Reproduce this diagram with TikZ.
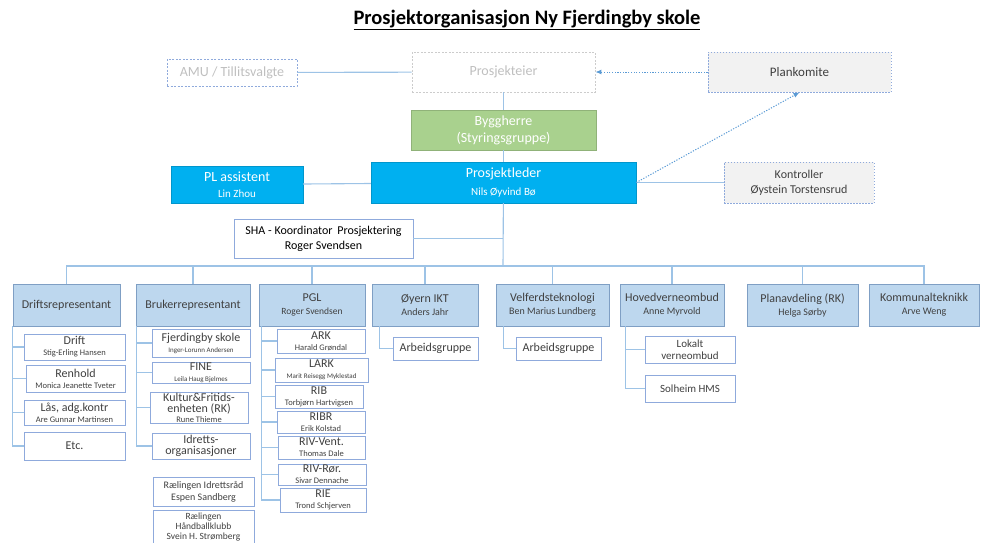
\documentclass[tikz,border=0pt]{standalone}
\usepackage{fontspec}
\setmainfont{Carlito}
\usetikzlibrary{arrows.meta}
\definecolor{lineblue}{HTML}{9DC3E6}
\definecolor{lvlfill}{HTML}{BDD7EE}
\definecolor{lvlborder}{HTML}{7F9FC4}
\definecolor{subborder}{HTML}{8FAADC}
\definecolor{plblue}{HTML}{00B0F0}
\definecolor{byggreen}{HTML}{A9D18E}
\definecolor{txtgray}{HTML}{404040}
\definecolor{palegray}{HTML}{BFBFBF}
\definecolor{boxgray}{HTML}{F2F2F2}
\definecolor{dotblue}{HTML}{5B9BD5}
\newcommand{\nm}[1]{{\fontsize{8.5}{9}\selectfont #1}}
\newcommand{\nmsmall}[1]{{\fontsize{7}{8}\selectfont #1}}

\begin{document}
\begin{tikzpicture}[x=1pt,y=-1pt,
  box/.style 2 args={minimum width=#1, minimum height=#2, inner sep=0pt, align=center},
  conn/.style={draw=lineblue, line width=1.1pt},
  lvl/.style={draw=lvlborder, fill=lvlfill, line width=0.8pt, text=txtgray, font=\fontsize{12}{13}\selectfont},
  sub/.style={draw=subborder, fill=white, line width=0.8pt, text=txtgray, font=\fontsize{12}{11}\selectfont},
  faint/.style={dash pattern=on 2pt off 1.5pt, line width=0.8pt, text=palegray, font=\fontsize{14}{14}\selectfont},
  ctrl/.style={draw=subborder, dash pattern=on 1.5pt off 1.5pt, line width=0.8pt, fill=boxgray, text=txtgray},
  dotarrow/.style={draw=dotblue, dash pattern=on 1.2pt off 1.5pt, line width=1pt, -{Latex[length=6pt,width=5pt]}}]
\useasboundingbox (0,0) rectangle (981,542);

\node (title) at (527,20) {\fontsize{20.5}{20.5}\selectfont\bfseries\underline{Prosjektorganisasjon Ny Fjerdingby skole}};

\node[box={130}{27}, faint, draw=subborder] (amu) at (232,72.5) {AMU / Tillitsvalgte};
\node[box={183}{40}, faint, draw=palegray!80] (eier) at (503.5,72) {Prosjekteier};
\node[box={183}{40}, ctrl, font=\fontsize{13}{13}\selectfont] (plan) at (799.5,72) {Plankomite};
\node[box={185}{40}, draw=byggreen!85!black, fill=byggreen, text=white, font=\fontsize{14}{17}\selectfont] (bygg) at (503.5,130) {Byggherre\\(Styringsgruppe)};
\node[box={265}{41}, draw=plblue!85!black, fill=plblue, text=white, font=\fontsize{14}{18}\selectfont] (pl) at (503.5,182.5) {Prosjektleder\\{\fontsize{11}{11}\selectfont Nils Øyvind Bø}};
\node[box={132}{37}, draw=plblue!85!black, fill=plblue, text=white, font=\fontsize{14}{16}\selectfont] (plass) at (237,184.5) {PL assistent\\{\fontsize{11}{11}\selectfont Lin Zhou}};
\node[box={150}{41}, ctrl, font=\fontsize{12}{15}\selectfont] (kontr) at (799,182.5) {Kontroller\\Øystein Torstensrud};
\node[box={179}{39}, sub, text=black, font=\fontsize{12}{15}\selectfont] (sha) at (323.5,238.5) {SHA - Koordinator\, Prosjektering\\Roger Svendsen};

\coordinate (bus) at (503,266);

\node[box={107}{42}, lvl] (drift) at (66.5,305) {Driftsrepresentant};
\node[box={114}{42}, lvl] (bruker) at (193,305) {Brukerrepresentant};
\node[box={106}{42}, lvl] (pgl) at (312,305) {PGL\\{\fontsize{9.5}{10}\selectfont Roger Svendsen}};
\node[box={106}{42}, lvl] (oyern) at (425,305) {Øyern IKT\\{\fontsize{10}{10}\selectfont Anders Jahr}};
\node[box={113}{42}, lvl] (velferd) at (552.5,305) {Velferdsteknologi\\{\fontsize{10}{10}\selectfont Ben Marius Lundberg}};
\node[box={104}{42}, lvl] (hoved) at (672,305) {Hovedverneombud\\{\fontsize{10}{10}\selectfont Anne Myrvold}};
\node[box={111}{42}, lvl] (planavd) at (802.5,305) {Planavdeling (RK)\\{\fontsize{10}{10}\selectfont Helga Sørby}};
\node[box={110}{42}, lvl] (kommunal) at (924,305) {Kommunalteknikk\\{\fontsize{10}{10}\selectfont Arve Weng}};

\node[box={101}{26}, sub] (d1) at (74.5,347) {Drift\\\nm{Stig-Erling Hansen}};
\node[box={99}{27}, sub] (d2) at (75.5,378.5) {Renhold\\\nm{Monica Jeanette Tveter}};
\node[box={101}{25}, sub] (d3) at (74.5,412.5) {Lås, adg.kontr\\\nm{Are Gunnar Martinsen}};
\node[box={101}{28}, sub] (d4) at (74.5,446) {Etc.};

\node[box={98}{28}, sub] (b1) at (201,343) {Fjerdingby skole\\\nmsmall{Inger-Lorunn Andersen}};
\node[box={98}{21}, sub] (b2) at (201,372.5) {FINE\\\nmsmall{Leila Haug Bjelmes}};
\node[box={98}{31}, sub, font=\fontsize{12}{11}\selectfont] (b3) at (199,407.5) {Kultur\&Fritids-\\enheten (RK)\\[-1pt]\nm{Rune Thieme}};
\node[box={98}{26}, sub] (b4) at (201,446) {Idretts-\\organisasjoner};
\node[box={101}{29}, sub, font=\fontsize{10}{12}\selectfont] (b5) at (203.5,491.5) {Rælingen Idrettsråd\\Espen Sandberg};
\node[box={101}{34}, sub, font=\fontsize{9.5}{10.3}\selectfont] (b6) at (203.5,527) {Rælingen\\Håndballklubb\\Svein H. Strømberg};

\node[box={88}{24}, sub] (p1) at (321,341) {ARK\\\nm{Harald Grøndal}};
\node[box={93}{24}, sub] (p2) at (321.5,370) {LARK\\\nmsmall{Marit Reisegg Myklestad}};
\node[box={88}{23}, sub] (p3) at (319,396.5) {RIB\\\nm{Torbjørn Hartvigsen}};
\node[box={88}{22}, sub] (p4) at (321,422) {RIBR\\\nm{Erik Kolstad}};
\node[box={87}{23}, sub] (p5) at (321.5,447.5) {RIV-Vent.\\\nm{Thomas Dale}};
\node[box={88}{21}, sub] (p6) at (322,474.5) {RIV-Rør.\\\nm{Sivar Dennache}};
\node[box={86}{24}, sub] (p7) at (323,500) {RIE\\\nm{Trond Schjerven}};

\node[box={85}{23}, sub] (oa) at (435.5,348.5) {Arbeidsgruppe};
\node[box={85}{23}, sub] (va) at (558.5,348.5) {Arbeidsgruppe};
\node[box={90}{27}, sub, font=\fontsize{11}{12}\selectfont] (h1) at (690,349.5) {Lokalt\\verneombud};
\node[box={90}{27}, sub, font=\fontsize{11}{12}\selectfont] (h2) at (690,388.5) {Solheim HMS};

\draw[conn] (amu) -- (eier);
\draw[conn] (eier) -- (bygg);
\draw[conn] (bygg) -- (pl);
\draw[conn] (plass) -- (pl);
\draw[conn] (pl) -- (kontr);
\draw[conn] (pl) -- (bus);
\draw[conn] (sha.east) -- (sha.east -| bus);
\draw[dotarrow] (plan) -- (eier);
\draw[dotarrow] (pl.east) -- (plan.south);

\foreach \n in {drift,bruker,pgl,oyern,velferd,hoved,planavd,kommunal}
  \draw[conn] (\n.north) |- (bus);
\foreach \n in {d1,d2,d3,d4}
  \draw[conn] (drift.south west) |- (\n.west);
\foreach \n in {b1,b2,b3,b4}
  \draw[conn] ([xshift=1pt]bruker.south west) |- (\n.west);
\foreach \n in {p1,p2,p3,p4,p5,p6,p7}
  \draw[conn] ([xshift=3pt]pgl.south west) |- (\n.west);
\draw[conn] ([xshift=8pt]oyern.south west) |- (oa.west);
\draw[conn] ([xshift=8pt]velferd.south west) |- (va.west);
\foreach \n in {h1,h2}
  \draw[conn] ([xshift=6pt]hoved.south west) |- (\n.west);
\end{tikzpicture}
\end{document}
